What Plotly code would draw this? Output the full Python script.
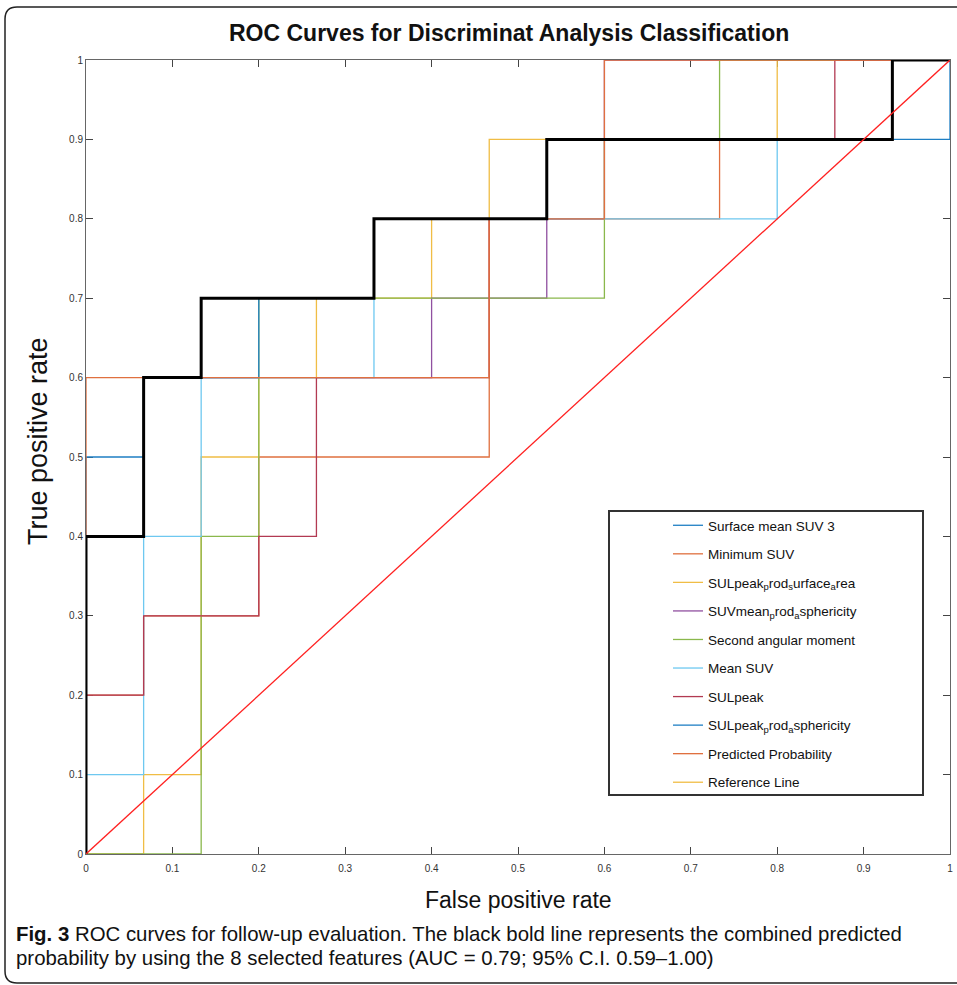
import plotly.graph_objects as go

W, H = 957, 985

# ---------------- data (ROC step vertices) ----------------
names = ["Surface mean SUV 3", "Minimum SUV",
         "SULpeak<sub>p</sub>rod<sub>s</sub>urface<sub>a</sub>rea",
         "SUVmean<sub>p</sub>rod<sub>a</sub>sphericity",
         "Second angular moment", "Mean SUV", "SULpeak",
         "SULpeak<sub>p</sub>rod<sub>a</sub>sphericity",
         "Predicted Probability", "Reference Line"]

fpr_surface = [0, 0, 0.0667, 0.0667, 0.1333, 0.1333, 0.3333, 0.3333, 0.5333, 0.5333, 0.9333, 0.9333, 1]
tpr_surface = [0, 0.5, 0.5, 0.6, 0.6, 0.7, 0.7, 0.8, 0.8, 0.9, 0.9, 1, 1]

fpr_minsuv = [0, 0, 0.0667, 0.0667, 0.2, 0.2, 0.4667, 0.4667, 0.7333, 0.7333, 0.9333, 0.9333, 1]
tpr_minsuv = [0, 0.2, 0.2, 0.3, 0.3, 0.5, 0.5, 0.8, 0.8, 0.9, 0.9, 1, 1]

fpr_sulsa = [0, 0.0667, 0.0667, 0.1333, 0.1333, 0.2, 0.2, 0.2667, 0.2667, 0.4, 0.4, 0.4667, 0.4667, 0.8, 0.8, 1]
tpr_sulsa = [0, 0, 0.1, 0.1, 0.5, 0.5, 0.6, 0.6, 0.7, 0.7, 0.8, 0.8, 0.9, 0.9, 1, 1]

fpr_suvsph = [0, 0, 0.0667, 0.0667, 0.4, 0.4, 0.5333, 0.5333, 0.6, 0.6, 1]
tpr_suvsph = [0, 0.4, 0.4, 0.6, 0.6, 0.7, 0.7, 0.8, 0.8, 1, 1]

fpr_sam = [0, 0.1333, 0.1333, 0.2, 0.2, 0.6, 0.6, 0.7333, 0.7333, 1]
tpr_sam = [0, 0, 0.4, 0.4, 0.7, 0.7, 0.9, 0.9, 1, 1]

fpr_meansuv = [0, 0, 0.0667, 0.0667, 0.1333, 0.1333, 0.3333, 0.3333, 0.8, 0.8, 0.9333, 0.9333, 1]
tpr_meansuv = [0, 0.1, 0.1, 0.4, 0.4, 0.6, 0.6, 0.8, 0.8, 0.9, 0.9, 1, 1]

fpr_sulpeak = [0, 0, 0.0667, 0.0667, 0.2, 0.2, 0.2667, 0.2667, 0.4667, 0.4667, 0.5333, 0.5333, 0.8667, 0.8667, 1]
tpr_sulpeak = [0, 0.2, 0.2, 0.3, 0.3, 0.4, 0.4, 0.6, 0.6, 0.8, 0.8, 0.9, 0.9, 1, 1]

fpr_sulsph = [0, 0, 0.0667, 0.0667, 0.2, 0.2, 0.3333, 0.3333, 0.5333, 0.5333, 1, 1]
tpr_sulsph = [0, 0.4, 0.4, 0.6, 0.6, 0.7, 0.7, 0.8, 0.8, 0.9, 0.9, 1]

fpr_pred = [0, 0, 0.4667, 0.4667, 0.6, 0.6, 1]
tpr_pred = [0, 0.6, 0.6, 0.8, 0.8, 1, 1]

fpr_combined = [0, 0, 0.0667, 0.0667, 0.1333, 0.1333, 0.3333, 0.3333, 0.5333, 0.5333, 0.9333, 0.9333, 1]
tpr_combined = [0, 0.4, 0.4, 0.6, 0.6, 0.7, 0.7, 0.8, 0.8, 0.9, 0.9, 1, 1]

fpr_reference = fpr_combined
tpr_reference = tpr_combined

fpr_diag = [0, 1]
tpr_diag = [0, 1]

tick_vals = [0, 0.1, 0.2, 0.3, 0.4, 0.5, 0.6, 0.7, 0.8, 0.9, 1]
tick_text = ["0", "0.1", "0.2", "0.3", "0.4", "0.5", "0.6", "0.7", "0.8", "0.9", "1"]

colors = ["#1f7fc4", "#e0703f", "#f0bd45", "#9050a0", "#8ab84c",
          "#6ec8f0", "#b23a52", "#1f7fc4", "#e0703f", "#f0bd45"]

series = [(fpr_surface, tpr_surface), (fpr_minsuv, tpr_minsuv), (fpr_sulsa, tpr_sulsa),
          (fpr_suvsph, tpr_suvsph), (fpr_sam, tpr_sam), (fpr_meansuv, tpr_meansuv),
          (fpr_sulpeak, tpr_sulpeak), (fpr_sulsph, tpr_sulsph), (fpr_pred, tpr_pred),
          (fpr_reference, tpr_reference)]

# ---------------- layout geometry (pixels) ----------------
PX0, PX1 = 86, 950      # plot area left/right
PY0, PY1 = 60, 854      # plot area top/bottom

def px(x):
    return x / W

def py(y):
    return 1 - y / H

fig = go.Figure()
for i, ((fx, ty), nm) in enumerate(zip(series, names)):
    fig.add_trace(go.Scatter(x=fx, y=ty, mode="lines", name=nm,
                             legendgroup=f"g{i}",
                             line=dict(color=colors[i], width=1.3)))

fig.add_trace(go.Scatter(x=fpr_combined, y=tpr_combined, mode="lines", showlegend=False,
                         line=dict(color="black", width=3)))
fig.add_trace(go.Scatter(x=fpr_diag, y=tpr_diag, mode="lines", showlegend=False,
                         line=dict(color="#FF2020", width=1.3)))

axis_common = dict(range=[0, 1], tickvals=tick_vals, ticktext=tick_text,
                   ticks="inside", ticklen=7, tickwidth=1, tickcolor="#444",
                   showline=True, linecolor="#666", linewidth=1, mirror="ticks",
                   showgrid=False, zeroline=False, automargin=False,
                   layer="below traces",
                   tickfont=dict(family="Liberation Sans, Arial", size=10, color="#333"))

fig.update_xaxes(domain=[px(PX0), px(PX1)], ticklabelstandoff=5, **axis_common)
fig.update_yaxes(domain=[py(PY1), py(PY0)], **axis_common)

# outer figure frame with rounded left corners
r = 12
fx0, fy0, fy1, fx1 = 5, 7, 983, 975
frame_path = (f"M {px(fx1)},{py(fy0)} L {px(fx0 + r)},{py(fy0)} "
              f"Q {px(fx0)},{py(fy0)} {px(fx0)},{py(fy0 + r)} "
              f"L {px(fx0)},{py(fy1 - r)} Q {px(fx0)},{py(fy1)} {px(fx0 + r)},{py(fy1)} "
              f"L {px(fx1)},{py(fy1)}")

shapes = [
    dict(type="path", xref="paper", yref="paper", path=frame_path,
         line=dict(color="#222", width=1.5)),
    dict(type="rect", xref="paper", yref="paper", x0=px(609), x1=px(923), y0=py(795), y1=py(511),
         line=dict(color="#333", width=2), fillcolor="white", layer="below"),
]

cap_font = dict(family="Liberation Sans, Arial", size=20.4, color="#111")
annotations = [
    dict(text="<b>ROC Curves for Discriminat Analysis Classification</b>", x=px(509), y=py(33),
         xref="paper", yref="paper", showarrow=False, xanchor="center", yanchor="middle",
         font=dict(family="Liberation Sans, Arial", size=23, color="#111")),
    dict(text="True positive rate", x=px(38), y=py(441), textangle=-90,
         xref="paper", yref="paper", showarrow=False, xanchor="center", yanchor="middle",
         font=dict(family="Liberation Sans, Arial", size=27, color="#111")),
    dict(text="False positive rate", x=px(518), y=py(900),
         xref="paper", yref="paper", showarrow=False, xanchor="center", yanchor="middle",
         font=dict(family="Liberation Sans, Arial", size=23, color="#111")),
    dict(text="<b>Fig. 3</b> ROC curves for follow-up evaluation. The black bold line represents the combined predicted",
         x=px(14), y=py(934), xref="paper", yref="paper", showarrow=False,
         xanchor="left", yanchor="middle", font=cap_font),
    dict(text="probability by using the 8 selected features (AUC = 0.79; 95% C.I. 0.59–1.00)",
         x=px(14), y=py(958), xref="paper", yref="paper", showarrow=False,
         xanchor="left", yanchor="middle", font=cap_font),
]

fig.update_layout(
    width=W, height=H, autosize=False,
    margin=dict(l=0, r=0, t=0, b=0),
    paper_bgcolor="white", plot_bgcolor="white",
    shapes=shapes, annotations=annotations,
    legend=dict(x=px(668), y=py(510), xanchor="left", yanchor="top",
                bgcolor="rgba(0,0,0,0)", borderwidth=0,
                traceorder="grouped", tracegroupgap=8, itemwidth=30,
                font=dict(family="Liberation Sans, Arial", size=13.5, color="#111")),
)

fig.write_html("out.html", config={"displayModeBar": False},
               post_script="document.body.style.margin='0';document.body.style.padding='0';document.body.style.overflow='hidden';")
